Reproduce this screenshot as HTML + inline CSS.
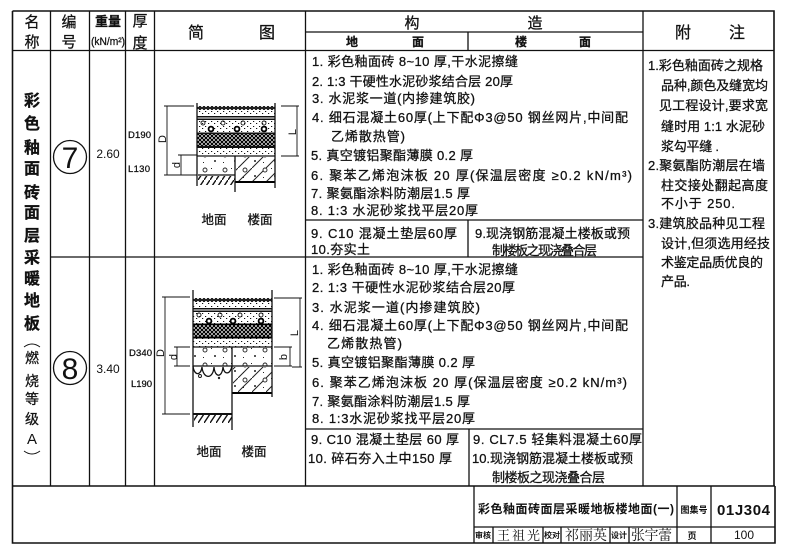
<!DOCTYPE html>
<html><head><meta charset="utf-8"><style>
html,body{margin:0;padding:0;background:#fff}
svg{display:block}
text{font-family:"Liberation Sans","Noto Sans CJK SC",sans-serif;fill:#111;font-size:13px;stroke:#111;stroke-width:.28}
.m{text-anchor:middle}
.b{font-weight:700}
.l{stroke:#111;stroke-width:1.3;fill:none}
.t{stroke:#111;stroke-width:.9;fill:none}
.k{stroke:#000;stroke-width:2;fill:none}
.n{stroke-width:0}
</style></head><body>
<svg width="787" height="558" viewBox="0 0 787 558" xmlns="http://www.w3.org/2000/svg">
<defs>
<pattern id="dots" width="6" height="5" patternUnits="userSpaceOnUse"><rect x="1" y="1" width="1.2" height="1" fill="#111"/><rect x="4" y="3" width="1.2" height="1" fill="#111"/></pattern>
<pattern id="cross" width="4" height="4" patternUnits="userSpaceOnUse"><rect width="4" height="4" fill="#fff"/><path d="M0 0L4 4M4 0L0 4" stroke="#000" stroke-width="1.2"/></pattern>
<pattern id="tile" width="4" height="4" patternUnits="userSpaceOnUse"><rect width="4" height="4" fill="#222"/><rect x="1" y="1" width="2" height="2" fill="#ddd"/></pattern>
<pattern id="diag" width="14" height="14" patternUnits="userSpaceOnUse"><path d="M0 14L14 0" stroke="#222" stroke-width="1"/></pattern>
<pattern id="earth" width="6" height="9" patternUnits="userSpaceOnUse"><path d="M0 9L6 0" stroke="#111" stroke-width="1.4"/></pattern>
<pattern id="agg" width="20" height="15" patternUnits="userSpaceOnUse"><circle cx="5" cy="5" r="2" fill="#fff" stroke="#222" stroke-width=".9"/><circle cx="15" cy="11" r="1" fill="#222"/><rect x="11" y="3" width="1" height="1" fill="#222"/><rect x="3" y="12" width="1" height="1" fill="#222"/></pattern>
</defs>
<rect width="787" height="558" fill="#fff"/>

<!-- table lines -->
<path class="l" style="stroke-width:1.6" d="M12.5 11H774V486M12.5 11V543H775V486M12.5 486H775"/>
<path class="l" d="M12.5 50.5H774M50.5 11V486M89.5 11V486M125.5 11V486M154.5 11V486M305.5 11V486M643 11V486M305.5 32H643M468 32V50.5M50.5 257H643M305.5 220H643M468 220V257M305.5 429H643M469 429V486"/>
<path class="l" d="M474 486V543M677 486V543M711 486V543M474 527H775M493 527V543M543 527V543M561 527V543M610 527V543M629 527V543"/>

<!-- header -->
<text class="m" x="32" y="27" style="font-size:15px">名</text>
<text class="m" x="32" y="47" style="font-size:15px">称</text>
<text class="m" x="69" y="27" style="font-size:15px">编</text>
<text class="m" x="69" y="47" style="font-size:15px">号</text>
<text class="m b" x="108" y="26" style="font-size:13px">重量</text>
<text class="m" x="108" y="45" textLength="34" lengthAdjust="spacingAndGlyphs" style="font-size:11px">(kN/m²)</text>
<text class="m" x="140" y="26" style="font-size:15px">厚</text>
<text class="m" x="140" y="48" style="font-size:15px">度</text>
<text class="m" x="196" y="38" style="font-size:16px">简</text>
<text class="m" x="267" y="38" style="font-size:16px">图</text>
<text class="m" x="412" y="28" style="font-size:15px">构</text>
<text class="m" x="535" y="28" style="font-size:15px">造</text>
<text class="m b" x="352" y="46" style="font-size:12px">地</text>
<text class="m b" x="418" y="46" style="font-size:12px">面</text>
<text class="m b" x="521" y="46" style="font-size:12px">楼</text>
<text class="m b" x="585" y="46" style="font-size:12px">面</text>
<text class="m" x="683" y="38" style="font-size:16px">附</text>
<text class="m" x="737" y="38" style="font-size:16px">注</text>

<!-- name column -->
<text class="m b" x="32" y="106" style="font-size:16px">彩</text>
<text class="m b" x="32" y="129" style="font-size:16px">色</text>
<text class="m b" x="32" y="153" style="font-size:16px">釉</text>
<text class="m b" x="32" y="174" style="font-size:16px">面</text>
<text class="m b" x="32" y="198" style="font-size:16px">砖</text>
<text class="m b" x="32" y="218" style="font-size:16px">面</text>
<text class="m b" x="32" y="241" style="font-size:16px">层</text>
<text class="m b" x="32" y="263" style="font-size:16px">采</text>
<text class="m b" x="32" y="284" style="font-size:16px">暖</text>
<text class="m b" x="32" y="306" style="font-size:16px">地</text>
<text class="m b" x="32" y="329" style="font-size:16px">板</text>
<path class="t" d="M24 347Q32 341 40 347M24 451Q32 457 40 451"/>
<text class="m" x="32" y="363" style="font-size:14px">燃</text>
<text class="m" x="32" y="386" style="font-size:14px">烧</text>
<text class="m" x="32" y="404" style="font-size:14px">等</text>
<text class="m" x="32" y="424" style="font-size:14px">级</text>
<text class="m n" x="32" y="444" style="font-size:15px">A</text>

<!-- numbers -->
<circle cx="70" cy="157" r="16.5" class="l"/>
<text class="m n" x="70" y="168" style="font-size:30px">7</text>
<circle cx="70" cy="368" r="16.5" class="l"/>
<text class="m n" x="70" y="379" style="font-size:30px">8</text>
<text class="m n" x="108" y="158" style="font-size:12px">2.60</text>
<text class="m n" x="108" y="373" style="font-size:12px">3.40</text>
<text x="128" y="138" textLength="23" style="font-size:9.5px">D190</text>
<text x="128" y="172" textLength="22" style="font-size:9.5px">L130</text>
<text x="129" y="356" textLength="23" style="font-size:9.5px">D340</text>
<text x="131" y="387" textLength="21" style="font-size:9.5px">L190</text>

<!-- diagram 7 -->
<g>
<rect x="197" y="106" width="78" height="4" fill="url(#tile)"/>
<rect x="197" y="110" width="78" height="6" fill="url(#dots)"/>
<rect x="197" y="116" width="78" height="1.5" fill="#111"/>
<rect x="197" y="118.5" width="78" height="1.5" fill="#111"/>
<rect x="197" y="120" width="78" height="13" fill="url(#dots)"/>
<circle cx="203" cy="123" r="2" fill="#fff" class="t"/><circle cx="223" cy="123" r="2" class="t"/><circle cx="243" cy="123" r="2" class="t"/><circle cx="264" cy="123" r="2" class="t"/>
<circle cx="211" cy="129" r="2.4" fill="#fff" stroke="#000" stroke-width="1.8"/><circle cx="237" cy="129" r="2.4" fill="#fff" stroke="#000" stroke-width="1.8"/><circle cx="264" cy="129" r="2.4" fill="#fff" stroke="#000" stroke-width="1.8"/>
<rect x="197" y="132.5" width="78" height="1.5" fill="#111"/>
<rect x="197" y="134" width="78" height="12" fill="url(#cross)"/>
<rect x="197" y="146" width="78" height="2" fill="#111"/>
<rect x="197" y="148" width="78" height="8" fill="url(#dots)"/>
<path class="l" d="M197 156H275"/>
<rect x="198" y="157" width="37" height="18" fill="url(#agg)"/>
<rect x="198" y="176" width="37" height="9" fill="url(#earth)"/>
<path class="l" d="M198 175H235"/>
<rect x="236" y="157" width="39" height="24" fill="url(#diag)"/>
<rect x="236" y="157" width="39" height="24" fill="url(#agg)"/>
<path class="k" d="M235 182H275"/>
<path class="l" d="M197 103V186M235 156V192M275 103V188"/>
<path class="t" d="M167 106V175M164 106H194M164 175H197M181 155V175M178 155H197M297 106V156M281 106H299M281 156H299"/>
<text class="m n" x="162" y="143" transform="rotate(-90 162 139)" style="font-size:11px">D</text>
<text class="m n" x="176" y="169" transform="rotate(-90 176 165)" style="font-size:11px">d</text>
<text class="m n" x="292" y="136" transform="rotate(-90 292 132)" style="font-size:11px">L</text>
<text class="m" x="214" y="224" style="font-size:12.5px">地面</text>
<text class="m" x="260" y="224" style="font-size:12.5px">楼面</text>
</g>

<!-- diagram 8 -->
<g>
<rect x="193" y="298" width="79" height="4" fill="url(#tile)"/>
<rect x="193" y="302" width="79" height="6" fill="url(#dots)"/>
<rect x="193" y="308" width="79" height="1.5" fill="#111"/>
<rect x="193" y="310.5" width="79" height="1.5" fill="#111"/>
<rect x="193" y="312" width="79" height="12" fill="url(#dots)"/>
<circle cx="199" cy="315" r="2" class="t"/><circle cx="220" cy="315" r="2" class="t"/><circle cx="240" cy="315" r="2" class="t"/><circle cx="261" cy="315" r="2" class="t"/>
<circle cx="209" cy="321" r="2.4" fill="#fff" stroke="#000" stroke-width="1.8"/><circle cx="233" cy="321" r="2.4" fill="#fff" stroke="#000" stroke-width="1.8"/><circle cx="261" cy="321" r="2.4" fill="#fff" stroke="#000" stroke-width="1.8"/>
<rect x="193" y="323.5" width="79" height="1.5" fill="#000"/>
<rect x="193" y="325" width="79" height="12" fill="url(#cross)"/>
<rect x="193" y="336.5" width="79" height="2" fill="#000"/>
<rect x="193" y="338.5" width="79" height="8" fill="url(#dots)"/>
<path class="l" d="M193 347H272"/>
<rect x="194" y="348" width="78" height="18" fill="url(#agg)"/>
<path class="l" d="M193 366H272M232 347V366"/>
<path class="l" d="M193 366C194 376 201 376 202 367C203 379 213 380 214 367C215 378 222 378 223 367C224 375 230 375 232 366"/>
<circle cx="200" cy="376" r="1.5" class="t"/><circle cx="219" cy="378" r="1.2" fill="#222"/>
<rect x="233" y="367" width="39" height="25" fill="url(#diag)"/>
<rect x="233" y="367" width="39" height="25" fill="url(#agg)"/>
<path class="k" d="M232 393H272"/>
<rect x="194" y="415" width="38" height="8" fill="url(#earth)"/>
<path class="l" style="stroke-width:2" d="M193 414H232"/>
<path class="l" d="M193 290V427M272 290V397M232 366V430"/>
<path class="t" d="M165 297V414M162 297H190M162 414H190M177 347V366M174 347H190M174 366H190M290 347V366M274 347H292M274 366H292M300 298V367M274 298H302M292 367H302"/>
<text class="m n" x="160" y="357" transform="rotate(-90 160 353)" style="font-size:11px">D</text>
<text class="m n" x="173" y="361" transform="rotate(-90 173 357)" style="font-size:11px">d</text>
<text class="m n" x="283" y="361" transform="rotate(-90 283 357)" style="font-size:11px">b</text>
<text class="m n" x="294" y="337" transform="rotate(-90 294 333)" style="font-size:11px">L</text>
<text class="m" x="209" y="456" style="font-size:12.5px">地面</text>
<text class="m" x="254" y="456" style="font-size:12.5px">楼面</text>
</g>

<!-- construction row 1 -->
<text x="312" y="66" textLength="206">1. 彩色釉面砖 8~10 厚,干水泥擦缝</text>
<text x="312" y="86" textLength="201">2. 1:3 干硬性水泥砂浆结合层 20厚</text>
<text x="312" y="103" textLength="163">3. 水泥浆一道(内掺建筑胶)</text>
<text x="312" y="122" textLength="316">4. 细石混凝土60厚(上下配Φ3@50 钢丝网片,中间配</text>
<text x="331" y="141" textLength="74">乙烯散热管)</text>
<text x="311" y="160" textLength="162">5. 真空镀铝聚酯薄膜 0.2 厚</text>
<text x="311" y="180" textLength="321">6. 聚苯乙烯泡沫板 20 厚(保温层密度 ≥0.2 kN/m³)</text>
<text x="311" y="198" textLength="159">7. 聚氨酯涂料防潮层1.5 厚</text>
<text x="311" y="215" textLength="167">8. 1:3 水泥砂浆找平层20厚</text>
<text x="311" y="238" textLength="146">9. C10 混凝土垫层60厚</text>
<text x="311" y="254" textLength="59">10.夯实土</text>
<text x="475" y="238" textLength="155">9.现浇钢筋混凝土楼板或预</text>
<text x="492" y="255" textLength="105">制楼板之现浇叠合层</text>

<!-- construction row 2 -->
<text x="312" y="274" textLength="206">1. 彩色釉面砖 8~10 厚,干水泥擦缝</text>
<text x="312" y="292" textLength="203">2. 1:3 干硬性水泥砂浆结合层20厚</text>
<text x="312" y="312" textLength="168">3. 水泥浆一道(内掺建筑胶)</text>
<text x="312" y="330" textLength="316">4. 细石混凝土60厚(上下配Φ3@50 钢丝网片,中间配</text>
<text x="327" y="348" textLength="75">乙烯散热管)</text>
<text x="312" y="367" textLength="163">5. 真空镀铝聚酯薄膜 0.2 厚</text>
<text x="312" y="387" textLength="315">6. 聚苯乙烯泡沫板 20 厚(保温层密度 ≥0.2 kN/m³)</text>
<text x="312" y="406" textLength="158">7. 聚氨酯涂料防潮层1.5 厚</text>
<text x="312" y="423" textLength="163">8. 1:3水泥砂浆找平层20厚</text>
<text x="311" y="444" textLength="148">9. C10 混凝土垫层 60 厚</text>
<text x="308" y="463" textLength="144">10. 碎石夯入土中150 厚</text>
<text x="473" y="444" textLength="169">9. CL7.5 轻集料混凝土60厚</text>
<text x="472" y="463" textLength="161">10.现浇钢筋混凝土楼板或预</text>
<text x="492" y="482" textLength="113">制楼板之现浇叠合层</text>

<!-- notes -->
<text x="648" y="70" textLength="115">1.彩色釉面砖之规格</text>
<text x="661" y="90" textLength="107">品种,颜色及缝宽均</text>
<text x="659" y="110" textLength="109">见工程设计,要求宽</text>
<text x="661" y="131" textLength="104">缝时用 1:1 水泥砂</text>
<text x="661" y="151" textLength="58">浆勾平缝 .</text>
<text x="648" y="170" textLength="117">2.聚氨酯防潮层在墙</text>
<text x="661" y="190" textLength="107">柱交接处翻起高度</text>
<text x="661" y="208" textLength="74">不小于 250.</text>
<text x="648" y="228" textLength="117">3.建筑胶品种见工程</text>
<text x="661" y="248" textLength="109">设计,但须选用经技</text>
<text x="661" y="267" textLength="102">术鉴定品质优良的</text>
<text x="661" y="286" textLength="29">产品.</text>

<!-- title block -->
<text class="b n" x="478" y="513" textLength="196" style="font-size:12px">彩色釉面砖面层采暖地板楼地面(一)</text>
<text class="m b n" x="694" y="513" style="font-size:9px">图集号</text>
<text class="b n" x="717" y="515" textLength="53" style="font-size:15px">01J304</text>
<text class="m b n" x="483" y="538" style="font-size:8px">审核</text>
<text class="n" x="497" y="540" textLength="43" style="font-size:13px;font-family:'Liberation Serif','Noto Serif CJK SC',serif">王祖光</text>
<text class="m b n" x="552" y="538" style="font-size:8px">校对</text>
<text class="n" x="565" y="540" textLength="42" style="font-size:14px;font-family:'Liberation Serif','Noto Serif CJK SC',serif">祁丽英</text>
<text class="m b n" x="619" y="538" style="font-size:8px">设计</text>
<text class="n" x="631" y="540" textLength="41" style="font-size:14px;font-family:'Liberation Serif','Noto Serif CJK SC',serif">张宇蕾</text>
<text class="m b n" x="692" y="539" style="font-size:9px">页</text>
<text class="m n" x="744" y="539" style="font-size:12px">100</text>
</svg>
</body></html>
